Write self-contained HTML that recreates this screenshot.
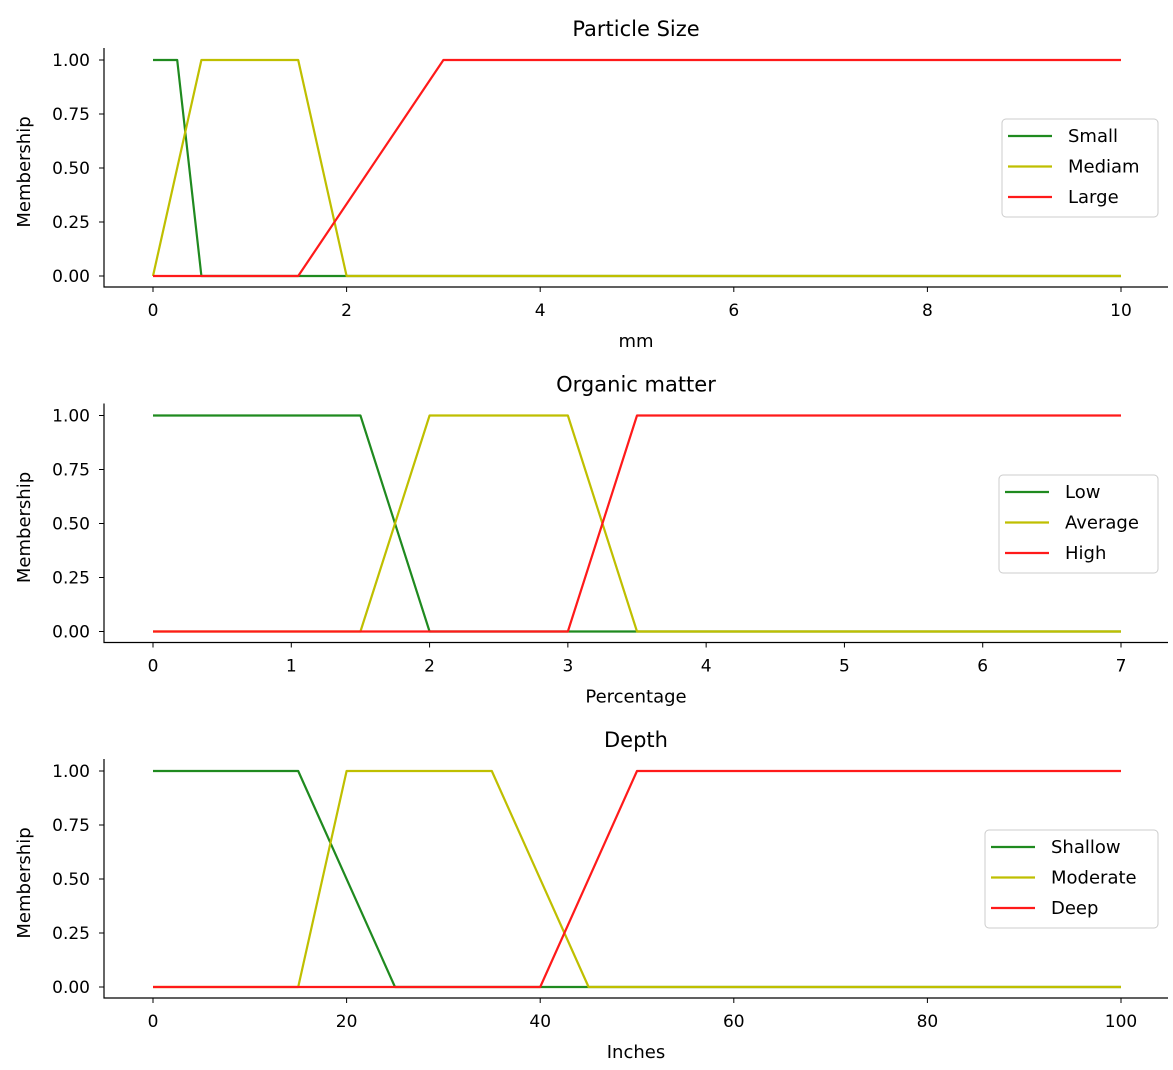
<!DOCTYPE html>
<html><head><meta charset="utf-8"><style>
body{margin:0;background:#fff;font-family:"Liberation Sans","DejaVu Sans",sans-serif;}
svg text{font-family:"DejaVu Sans","Liberation Sans",sans-serif;fill:#000;}
</style></head><body>
<svg id="fig" width="1173" height="1065" xmlns="http://www.w3.org/2000/svg"></svg>
<script>
const titles=["Particle Size","Organic matter","Depth"];
const xlabels=["mm","Percentage","Inches"];
const xmaxs=[10,7,100];
const xticks=[[0,2,4,6,8,10],[0,1,2,3,4,5,6,7],[0,20,40,60,80,100]];
const yticks=[0,0.25,0.5,0.75,1];
const seriesNames=[["Small","Mediam","Large"],["Low","Average","High"],["Shallow","Moderate","Deep"]];
const trap1=[[0,0,0.25,0.5],[0,0.5,1.5,2],[1.5,3,10,10]];
const trap2=[[0,0,1.5,2],[1.5,2,3,3.5],[3,3.5,7,7]];
const trap3=[[0,0,15,25],[15,20,35,45],[40,50,100,100]];
const traps=[trap1,trap2,trap3];
const colors=["#1f8a1f","#bfbf00","#ff1a1a"];
const legendBox=[[1002,119,156],[999,475,159],[985,830,173]];
const NS="http://www.w3.org/2000/svg";
const svg=document.getElementById('fig');
function el(t,a,p){const e=document.createElementNS(NS,t);for(const k in a)e.setAttribute(k,a[k]);(p||svg).appendChild(e);return e;}
function trapY(tr,x){const[a,b,c,d]=tr;if(x<a||x>d)return 0;if(x>=b&&x<=c)return 1;if(x<b)return (x-a)/(b-a);return (d-x)/(d-c);}
for(let i=0;i<3;i++){
  const off=i*355.5;
  const x0=153,x1=1121,y1=60+off,y0=276+off,spY=287+off,spX=104;
  const X=v=>x0+(x1-x0)*v/xmaxs[i];
  const Y=v=>y0-(y0-y1)*v;
  const g=el('g',{});
  
  
  const t=el('text',{x:636,y:36+off,'font-size':21,'text-anchor':'middle'},g);t.textContent=titles[i];
  
  const xl=el('text',{x:636,y:347+off,'font-size':18,'text-anchor':'middle'},g);xl.textContent=xlabels[i];
  
  const yl=el('text',{x:0,y:0,'font-size':18,'text-anchor':'middle',transform:`translate(30,${(y0+y1)/2+4}) rotate(-90)`},g);yl.textContent="Membership";
  
  const ax=el('path',{d:`M${spX},${48+off} V${spY} H1168`,stroke:'#000','stroke-width':1.2,fill:'none'},g);
  
  xticks[i].forEach(v=>{el('line',{x1:X(v),x2:X(v),y1:spY,y2:spY+5,stroke:'#000'},g);
    const tt=el('text',{x:X(v),y:spY+29,'font-size':17,'text-anchor':'middle'},g);tt.textContent=v;
    });
  yticks.forEach(v=>{el('line',{x1:spX-5,x2:spX,y1:Y(v),y2:Y(v),stroke:'#000'},g);
    const tt=el('text',{x:90,y:Y(v)+6,'font-size':17,'text-anchor':'end'},g);tt.textContent=v.toFixed(2);
    });
  traps[i].forEach((tr,j)=>{
    const xs=[0,...tr,xmaxs[i]].filter((v,k,a)=>true).sort((a,b)=>a-b);
    let d='';xs.forEach((v,k)=>{d+=(k?'L':'M')+X(v)+','+Y(trapY(tr,v)) ;});
    const p=el('path',{d,stroke:colors[j],'stroke-width':2.2,fill:'none','stroke-linejoin':'round'},g);
    
    
  });
  const [lx,ly,lw]=legendBox[i];
  const lg=el('g',{},g);
  
  el('rect',{x:lx,y:ly,width:lw,height:98,rx:4,fill:'#fff','fill-opacity':0.85,stroke:'#ccc'},lg);
  seriesNames[i].forEach((n,j)=>{
    const yy=ly+17+j*30.5;
    el('line',{x1:lx+6,x2:lx+50,y1:yy,y2:yy,stroke:colors[j],'stroke-width':2.2},lg);
    const tt=el('text',{x:lx+66,y:yy+6,'font-size':18},lg);tt.textContent=n;
    
  });
}
</script>
</body></html>
